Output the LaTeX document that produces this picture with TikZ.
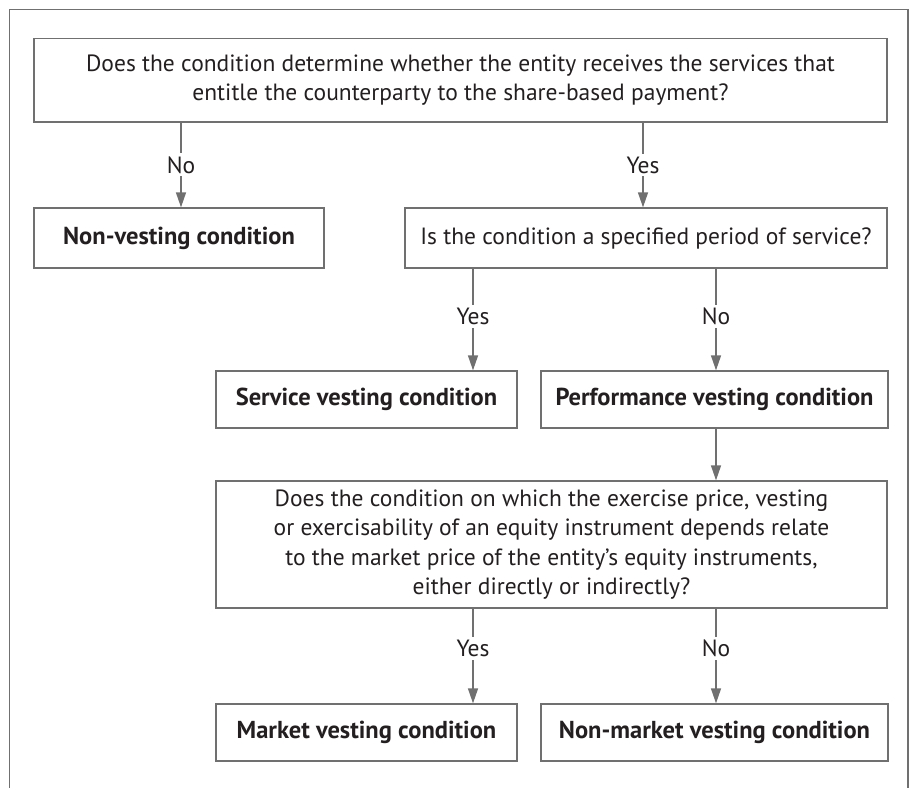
\documentclass[tikz,border=0pt]{standalone}
\usepackage{fontspec}
\setmainfont{PT Sans}
\usetikzlibrary{arrows.meta}
\definecolor{linegray}{RGB}{112,112,112}
\definecolor{txt}{RGB}{35,31,32}
\tikzset{
  box/.style={draw=linegray, line width=1.3pt, inner sep=0pt, align=center, text=txt, font=\fontsize{23.5}{29.5}\selectfont},
  bbox/.style={box, font=\fontsize{24.5}{29.5}\selectfont\bfseries},
  arr/.style={draw=linegray, line width=1.3pt, -{Triangle[width=10pt,length=15pt]}},
  lbl/.style={fill=white, text=txt, inner xsep=1pt, inner ysep=3pt, font=\fontsize{23.5}{26}\selectfont},
  frame/.style={draw=linegray, line width=1.2pt}
}
\begin{document}
\begin{tikzpicture}[x=1pt,y=-1pt]
\useasboundingbox (0,0) rectangle (912,788);
\draw[frame] (9.5,788) -- (9.5,9.5) -- (908,9.5) -- (908,788);

\node[box, minimum width=853pt, minimum height=83.3pt] (q1) at (460.5,80.3)
  {Does the condition determine whether the entity receives the services that\\entitle the counterparty to the share-based payment?};
\node[bbox, minimum width=290pt, minimum height=60pt] (nv) at (179,238) {Non-vesting condition};
\node[box, minimum width=482pt, minimum height=60pt] (q2) at (646,238) {Is the condition a specified period of service?};
\node[bbox, minimum width=301pt, minimum height=57pt] (svc) at (366.5,399.5) {Service vesting condition};
\node[bbox, minimum width=347pt, minimum height=57pt] (perf) at (714.5,399.5) {Performance vesting condition};
\node[box, minimum width=671pt, minimum height=127pt] (q3) at (551.5,544.5)
  {Does the condition on which the exercise price, vesting\\or exercisability of an equity instrument depends relate\\to the market price of the entity’s equity instruments,\\either directly or indirectly?};
\node[bbox, minimum width=301pt, minimum height=57pt] (mkt) at (366.5,732.5) {Market vesting condition};
\node[bbox, minimum width=347pt, minimum height=57pt] (nmkt) at (714.5,732.5) {Non-market vesting condition};

\coordinate (xa) at (181,0);
\coordinate (xb) at (643,0);
\coordinate (xc) at (473,0);
\coordinate (xd) at (716,0);

\draw[arr] (q1.south -| xa) -- node[lbl, midway] {No} (nv.north -| xa);
\draw[arr] (q1.south -| xb) -- node[lbl, midway] {Yes} (q2.north -| xb);
\draw[arr] (q2.south -| xc) -- node[lbl, pos=0.47] {Yes} (svc.north -| xc);
\draw[arr] (q2.south -| xd) -- node[lbl, pos=0.47] {No} (perf.north -| xd);
\draw[arr] (perf.south -| xd) -- (q3.north -| xd);
\draw[arr] (q3.south -| xc) -- node[lbl, pos=0.42] {Yes} (mkt.north -| xc);
\draw[arr] (q3.south -| xd) -- node[lbl, pos=0.42] {No} (nmkt.north -| xd);
\end{tikzpicture}
\end{document}
